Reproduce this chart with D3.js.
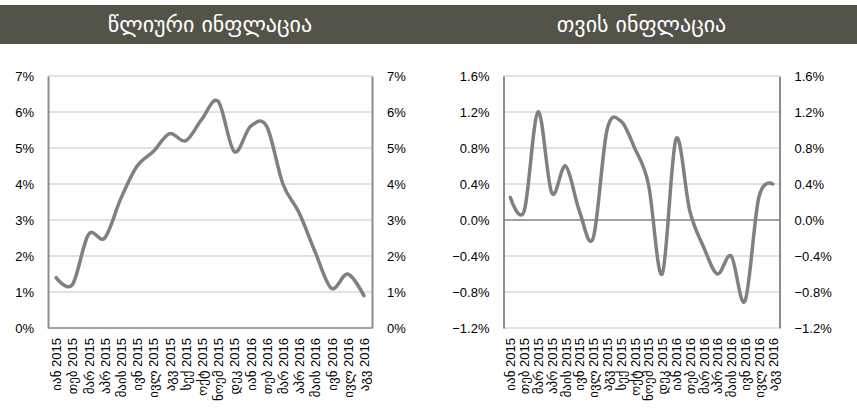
<!DOCTYPE html>
<html>
<head>
<meta charset="utf-8">
<script src="https://cdn.jsdelivr.net/npm/d3@7"></script>
<style>
  html, body { margin: 0; padding: 0; background: #ffffff; }
  svg { display: block; }
</style>
</head>
<body>
<svg id="chart" width="857" height="412"></svg>
<script>
const categories = [
  "იან 2015", "თებ 2015", "მარ 2015", "აპრ 2015", "მაის 2015", "ივნ 2015", "ივლ 2015",
  "აგვ 2015", "სექ 2015", "ოქტ 2015", "ნოემ 2015", "დეკ 2015", "იან 2016", "თებ 2016",
  "მარ 2016", "აპრ 2016", "მაის 2016", "ივნ 2016", "ივლ 2016", "აგვ 2016"
];
const annualValues = [1.4, 1.2, 2.6, 2.5, 3.6, 4.5, 4.9, 5.4, 5.2, 5.8, 6.3, 4.9, 5.6, 5.6, 4.0, 3.2, 2.1, 1.1, 1.5, 0.9];
const monthlyValues = [0.25, 0.1, 1.2, 0.3, 0.6, 0.1, -0.2, 1.0, 1.1, 0.8, 0.4, -0.6, 0.9, 0.1, -0.3, -0.6, -0.4, -0.9, 0.25, 0.4];
const annualTicks = [0, 1, 2, 3, 4, 5, 6, 7];
const monthlyTicks = [-1.2, -0.8, -0.4, 0.0, 0.4, 0.8, 1.2, 1.6];
const titles = ["წლიური ინფლაცია", "თვის ინფლაცია"];

const svg = d3.select("#chart");
const FONT = "'Liberation Sans', Arial, 'DejaVu Sans', sans-serif";

// header bar
svg.append("rect").attr("x", 0).attr("y", 5).attr("width", 857).attr("height", 39).attr("fill", "#54534a");

function panel(cfg) {
  const g = svg.append("g");
  const x = d3.scaleBand().domain(cfg.categories).range([cfg.left, cfg.right]);
  const y = d3.scaleLinear().domain([cfg.ticks[0], cfg.ticks[cfg.ticks.length - 1]]).range([cfg.bottom, cfg.top]);

  // title
  svg.append("text")
    .attr("x", (cfg.left + cfg.right) / 2)
    .attr("y", 32)
    .attr("text-anchor", "middle")
    .attr("fill", "#ffffff")
    .attr("font-family", "'DejaVu Sans', sans-serif")
    .attr("font-size", 22)
    .text(cfg.title);

  // gridlines
  g.append("g").selectAll("line").data(cfg.ticks).join("line")
    .attr("x1", cfg.left).attr("x2", cfg.right)
    .attr("y1", d => y(d)).attr("y2", d => y(d))
    .attr("stroke", "#d9d9d9").attr("stroke-width", 1.5);

  // category axis line
  g.append("line")
    .attr("x1", cfg.left).attr("x2", cfg.right)
    .attr("y1", y(cfg.axisAt)).attr("y2", y(cfg.axisAt))
    .attr("stroke", "#8c8c8c").attr("stroke-width", 1.5);

  // value axes (left and right)
  const fmt = cfg.fmt;
  const leftAxis = d3.axisLeft(y).tickValues(cfg.ticks).tickSize(0).tickPadding(14).tickFormat(fmt);
  const rightAxis = d3.axisRight(y).tickValues(cfg.ticks).tickSize(0).tickPadding(15).tickFormat(fmt);
  [[leftAxis, cfg.left], [rightAxis, cfg.right]].forEach(([ax, xpos]) => {
    const a = g.append("g").attr("transform", `translate(${xpos},0)`).call(ax);
    a.select(".domain").attr("stroke", "#8c8c8c").attr("stroke-width", 2);
    a.selectAll("text").attr("font-family", FONT).attr("font-size", 13).attr("fill", "#000");
  });

  // x axis labels
  const xa = d3.axisBottom(x).tickSize(0).tickPadding(0);
  const xg = g.append("g").attr("transform", `translate(0,${cfg.bottom})`).call(xa);
  xg.select(".domain").remove();
  xg.selectAll("text")
    .attr("font-family", FONT).attr("font-size", 13).attr("fill", "#000")
    .attr("text-anchor", "end")
    .attr("dy", null).attr("y", 0)
    .attr("transform", "translate(5,10) rotate(-90)");

  // line
  const line = d3.line()
    .x((d, i) => x(cfg.categories[i]) + x.bandwidth() / 2)
    .y(d => y(d))
    .curve(d3.curveCardinal.tension(0));
  g.append("path").datum(cfg.values)
    .attr("d", line)
    .attr("fill", "none")
    .attr("stroke", "#808080")
    .attr("stroke-width", 3.5)
    .attr("stroke-linejoin", "round")
    .attr("stroke-linecap", "round");
}

panel({
  categories, values: annualValues, ticks: annualTicks, title: titles[0],
  left: 48, right: 372, top: 76, bottom: 328, axisAt: 0,
  fmt: d => d3.format(".0f")(d) + "%"
});
panel({
  categories, values: monthlyValues, ticks: monthlyTicks, title: titles[1],
  left: 503.5, right: 779.5, top: 76, bottom: 328, axisAt: 0,
  fmt: d => d3.format(".1f")(d) + "%"
});
</script>
</body>
</html>
